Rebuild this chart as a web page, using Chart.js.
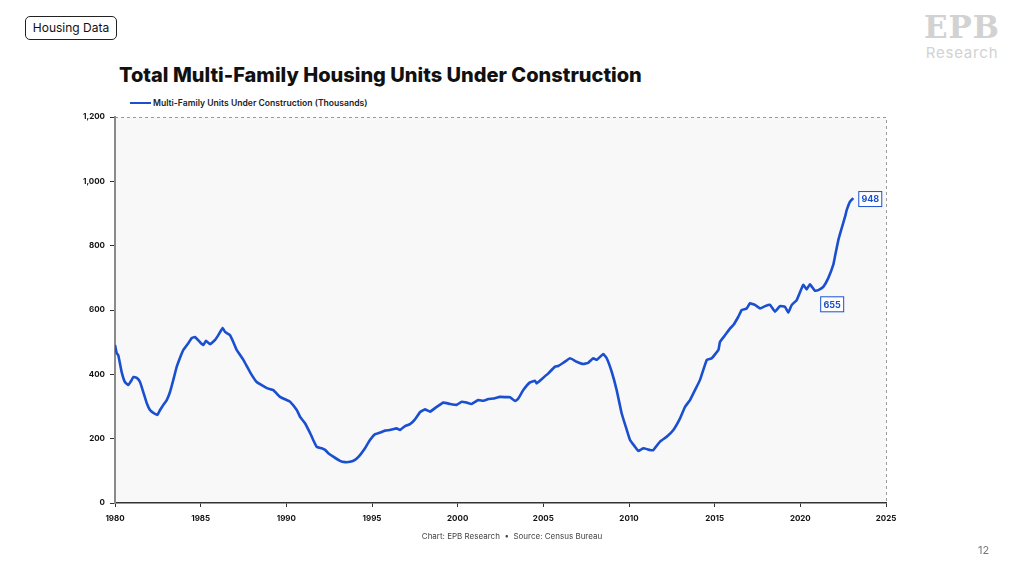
<!DOCTYPE html>
<html>
<head>
<meta charset="utf-8">
<script src="https://cdn.jsdelivr.net/npm/chart.js@4.4.1/dist/chart.umd.min.js"></script>
<style>
  html, body { margin: 0; padding: 0; background: #fff; }
  body { width: 1024px; height: 575px; position: relative; overflow: hidden; font-family: "Inter", "Noto Sans", sans-serif; }
  #chart-wrap { position: absolute; left: 0; top: 0; width: 1024px; height: 575px; }
  .tag { position: absolute; left: 25px; top: 16px; width: 90px; height: 22px; border: 1px solid #222; border-radius: 5px;
         font-size: 12px; line-height: 22px; text-align: center; color: #111; }
  .logo { position: absolute; left: 922px; top: 11px; width: 80px; text-align: center; color: #d2d2d2; }
  .logo .big { font-family: "DejaVu Serif", serif; font-weight: bold; font-size: 31px; line-height: 33px; letter-spacing: 1px; }
  .logo .small { font-size: 15px; line-height: 18px; letter-spacing: 0.8px; }
  .title { position: absolute; left: 119px; top: 63px; font-size: 20px; font-weight: 800; color: #111; letter-spacing: 0px; }
  .legend { position: absolute; left: 130px; top: 98px; font-size: 8.6px; font-weight: 600; color: #222; }
  .legend span.ln { display: inline-block; width: 21px; height: 0; border-top: 2.5px solid #1a4fd0; vertical-align: middle; margin-right: 2px; position: relative; top: -1px; }
  .foot { position: absolute; left: 0; width: 1024px; top: 531px; text-align: center; font-size: 8px; color: #444; }
  .page { position: absolute; left: 978px; top: 543px; font-size: 11px; color: #777; }
</style>
</head>
<body>
<div class="tag">Housing Data</div>
<div class="logo"><div class="big">EPB</div><div class="small">Research</div></div>
<div class="title">Total Multi-Family Housing Units Under Construction</div>
<div class="legend"><span class="ln"></span>Multi-Family Units Under Construction (Thousands)</div>
<div id="chart-wrap"><canvas id="myChart"></canvas></div>
<div class="foot">Chart: EPB Research &nbsp;•&nbsp; Source: Census Bureau</div>
<div class="page">12</div>
<script>
const years = [
  1980.00, 1980.10, 1980.19, 1980.39, 1980.58, 1980.78, 1980.97, 1981.07, 1981.27, 1981.46,
  1981.65, 1981.85, 1982.04, 1982.24, 1982.47, 1982.63, 1982.82, 1983.02, 1983.21, 1983.40,
  1983.60, 1983.79, 1983.99, 1984.28, 1984.48, 1984.67, 1984.96, 1985.15, 1985.31, 1985.55,
  1985.84, 1986.03, 1986.29, 1986.42, 1986.71, 1986.91, 1987.10, 1987.49, 1987.88, 1988.27,
  1988.86, 1989.24, 1989.63, 1990.02, 1990.21, 1990.61, 1990.80, 1991.09, 1991.39, 1991.57,
  1991.77, 1992.06, 1992.26, 1992.45, 1992.74, 1993.13, 1993.42, 1993.72, 1994.01, 1994.30,
  1994.59, 1994.88, 1995.18, 1995.47, 1995.76, 1996.05, 1996.44, 1996.63, 1996.93, 1997.22,
  1997.51, 1997.80, 1998.09, 1998.39, 1998.78, 1999.16, 1999.55, 1999.94, 2000.24, 2000.53,
  2000.82, 2001.20, 2001.50, 2001.79, 2002.08, 2002.47, 2002.86, 2003.05, 2003.35, 2003.54,
  2003.83, 2004.22, 2004.51, 2004.61, 2004.90, 2005.29, 2005.68, 2005.87, 2006.17, 2006.56,
  2006.95, 2007.33, 2007.62, 2007.92, 2008.12, 2008.50, 2008.70, 2008.99, 2009.28, 2009.57,
  2009.87, 2010.06, 2010.35, 2010.54, 2010.84, 2011.23, 2011.42, 2011.81, 2012.20, 2012.59,
  2012.98, 2013.27, 2013.56, 2013.85, 2014.14, 2014.54, 2014.83, 2015.22, 2015.31, 2015.61,
  2015.90, 2016.09, 2016.38, 2016.58, 2016.87, 2017.06, 2017.35, 2017.65, 2017.94, 2018.23,
  2018.52, 2018.81, 2019.10, 2019.30, 2019.50, 2019.79, 2020.17, 2020.37, 2020.56, 2020.85,
  2021.05, 2021.34, 2021.63, 2021.92, 2022.02, 2022.22, 2022.41, 2022.61, 2022.71, 2022.90,
  2023.09
];
const units = [
  491, 466, 460, 407, 376, 367, 382, 392, 389, 376,
  345, 311, 289, 280, 274, 289, 305, 320, 345, 382,
  423, 451, 476, 497, 513, 516, 500, 491, 504, 494,
  507, 522, 544, 532, 522, 500, 476, 445, 407, 376,
  357, 351, 330, 320, 315, 289, 268, 248, 217, 196,
  175, 170, 165, 155, 144, 131, 127, 128, 134, 149,
  170, 196, 214, 219, 225, 227, 232, 227, 239, 245,
  260, 282, 291, 284, 299, 312, 308, 305, 315, 312,
  308, 320, 318, 323, 325, 330, 329, 329, 317, 325,
  351, 375, 380, 372, 385, 403, 424, 426, 436, 450,
  439, 432, 436, 450, 445, 463, 450, 408, 351, 279,
  227, 196, 175, 162, 170, 165, 165, 191, 206, 227,
  263, 299, 320, 351, 382, 445, 450, 476, 501, 522,
  543, 553, 579, 600, 605, 621, 616, 605, 612, 616,
  595, 612, 610, 592, 616, 631, 678, 664, 680, 660,
  662, 672, 699, 740, 766, 818, 854, 890, 911, 937,
  948
];
const yTicks = [0, 200, 400, 600, 800, 1000, 1200];
const xTicks = [1980, 1985, 1990, 1995, 2000, 2005, 2010, 2015, 2020, 2025];
const labelYears = [2021.1, 2023.09];
const labelValues = [655, 948];

const LINE = "#1a4fd0";

// background, dashed top/right frame and value boxes
const framePlugin = {
  id: "frame",
  beforeDraw(chart) {
    const { ctx, chartArea: a } = chart;
    ctx.save();
    ctx.fillStyle = "#f8f8f8";
    ctx.fillRect(a.left, a.top, a.right - a.left, a.bottom - a.top);
    ctx.strokeStyle = "#9a9a9a";
    ctx.lineWidth = 1;
    ctx.setLineDash([3, 3]);
    ctx.beginPath();
    ctx.moveTo(a.left, a.top + 0.5);
    ctx.lineTo(a.right + 0.5, a.top + 0.5);
    ctx.lineTo(a.right + 0.5, a.bottom);
    ctx.stroke();
    ctx.restore();
  },
  afterDatasetsDraw(chart) {
    const { ctx, scales } = chart;
    const offsets = [[13, 12], [17, 1]];
    ctx.save();
    ctx.font = "bold 9px Inter, sans-serif";
    ctx.textAlign = "center";
    ctx.textBaseline = "middle";
    labelYears.forEach((yr, i) => {
      const cx = scales.x.getPixelForValue(yr) + offsets[i][0];
      const cy = scales.y.getPixelForValue(labelValues[i]) + offsets[i][1];
      ctx.fillStyle = "#ffffff";
      ctx.fillRect(cx - 12, cy - 8, 24, 16);
      ctx.strokeStyle = LINE;
      ctx.lineWidth = 1;
      ctx.strokeRect(cx - 12 + 0.5, cy - 8 + 0.5, 23, 15);
      ctx.fillStyle = LINE;
      ctx.fillText(String(labelValues[i]), cx, cy + 0.5);
    });
    ctx.restore();
  }
};

document.addEventListener("DOMContentLoaded", () => {
  const ctx = document.getElementById("myChart").getContext("2d");

  const data = {
    datasets: [
      {
        label: "Multi-Family Units Under Construction (Thousands)",
        data: years.map((yr, i) => ({ x: yr, y: units[i] })),
        borderColor: LINE,
        backgroundColor: LINE,
        borderWidth: 2.6,
        pointRadius: 0,
        tension: 0.1,
        fill: false,
      },
    ],
  };

  const tickFont = { family: "Inter, sans-serif", size: 8, weight: "bold" };

  const config = {
    type: "line",
    data: data,
    options: {
      responsive: true,
      maintainAspectRatio: false,
      animation: false,
      layout: { padding: { left: 75, right: 138, top: 117, bottom: 45 } },
      plugins: {
        legend: { display: false },
        tooltip: { enabled: false },
      },
      scales: {
        x: {
          type: "linear",
          min: 1980,
          max: 2025,
          afterBuildTicks: (axis) => { axis.ticks = xTicks.map((v) => ({ value: v })); },
          afterFit: (axis) => { axis.height = 27; },
          ticks: { font: tickFont, color: "#111", padding: 7, maxRotation: 0, callback: (v) => String(v) },
          grid: { drawOnChartArea: false, drawTicks: true, tickLength: 4, color: "#333" },
          border: { color: "#333", width: 1.5 },
        },
        y: {
          min: 0,
          max: 1200,
          afterBuildTicks: (axis) => { axis.ticks = yTicks.map((v) => ({ value: v })); },
          afterFit: (axis) => { axis.width = 40; },
          ticks: { font: tickFont, color: "#111", padding: 5, callback: (v) => v.toLocaleString("en-US") },
          grid: { drawOnChartArea: false, drawTicks: true, tickLength: 5, color: "#333" },
          border: { color: "#8a8a8a", width: 2 },
        },
      },
    },
    plugins: [framePlugin],
  };

  new Chart(ctx, config);
});
</script>
</body>
</html>
